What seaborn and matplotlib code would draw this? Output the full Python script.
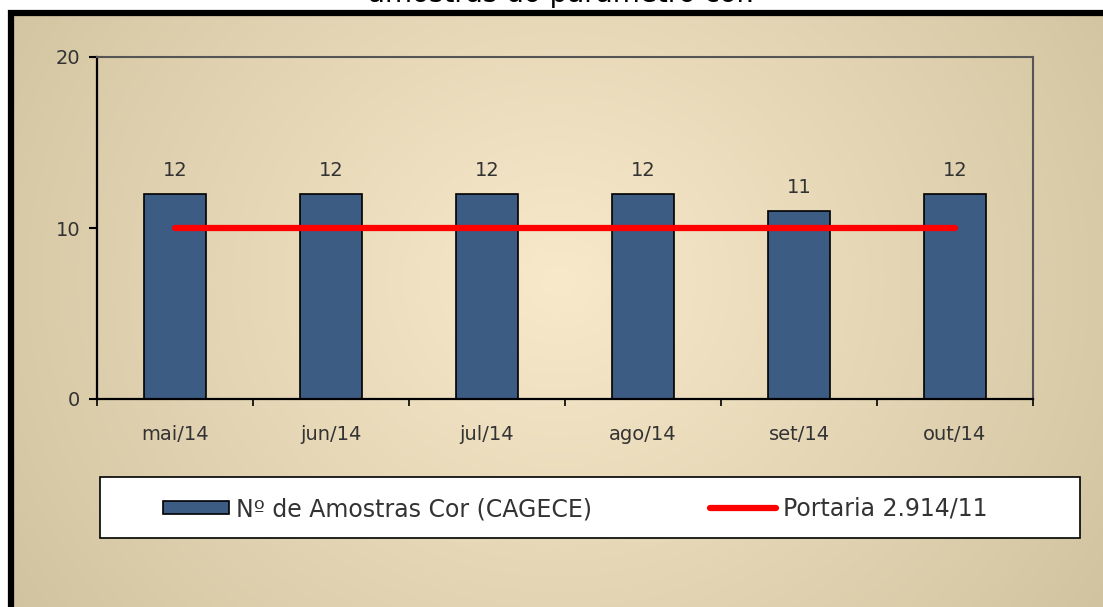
import numpy as np
import seaborn as sns
import matplotlib
matplotlib.use("Agg")
import matplotlib.pyplot as plt
from matplotlib.patches import Rectangle
from matplotlib.lines import Line2D
from matplotlib.patches import Patch

# dados
meses = ["mai/14", "jun/14", "jul/14", "ago/14", "set/14", "out/14"]
amostras = [12, 12, 12, 12, 11, 12]
portaria = [10, 10, 10, 10, 10, 10]

sns.set_theme(style="white")
plt.rcParams['font.family'] = ['DejaVu Sans']

W, H = 1103, 607
fig = plt.figure(figsize=(W / 100, H / 100), dpi=100)
fig.patch.set_facecolor("white")

# fundo em gradiente (bege)
bg = fig.add_axes([14 / W, 0, 1 - 14 / W, 1 - 15 / H], zorder=-2)
yy, xx = np.mgrid[0:1:300j, 0:1:500j]
r = np.sqrt(((xx - 0.5) / 0.6) ** 2 + ((yy - 0.45) / 1.0) ** 2)
r = np.clip(r, 0, 1)
c0 = np.array([248, 233, 203]) / 255
c1 = np.array([210, 195, 160]) / 255
img = c0[None, None, :] * (1 - r[..., None]) + c1[None, None, :] * r[..., None]
bg.imshow(img, aspect="auto", extent=[0, 1, 0, 1])
bg.axis("off")

# moldura preta
fig.patches.append(Rectangle((11 / W, -0.1), 1.2, 1 - 12.5 / H + 0.1,
                             transform=fig.transFigure, fill=False,
                             edgecolor="black", linewidth=4.5, zorder=-1))

# titulo (cortado no topo, como no original)
fig.text(561 / W, 1 - 2 / H, "amostras do parâmetro cor.", ha="center",
         va="baseline", fontsize=20, color="black")

ax = fig.add_axes([97 / W, 1 - 399 / H, 936 / W, 342 / H])
ax.patch.set_alpha(0)

sns.barplot(x=meses, y=amostras, color="#3c5c84", width=0.4,
            edgecolor="black", linewidth=1.2, saturation=1, ax=ax)
sns.lineplot(x=list(range(len(meses))), y=portaria, color="#ff0000",
             linewidth=4.5, solid_capstyle="round", ax=ax)

ax.bar_label(ax.containers[0], padding=10, fontsize=14, color="#333333")

ax.set_xlim(-0.5, len(meses) - 0.5)
ax.set_ylim(0, 20)
ax.set_yticks([0, 10, 20])
ax.set_xlabel("")
ax.set_ylabel("")
ax.set_xticks(np.arange(-0.5, len(meses)), minor=True)
ax.tick_params(axis="x", which="major", length=0, pad=19, labelsize=14,
               labelcolor="#333333")
ax.tick_params(axis="x", which="minor", length=5, width=1.2, color="black",
               direction="out", bottom=True)
ax.tick_params(axis="y", length=6, width=1.5, color="black", direction="out",
               pad=6, labelsize=14, labelcolor="#333333", left=True)

for s in ["left", "bottom"]:
    ax.spines[s].set_color("black")
    ax.spines[s].set_linewidth(1.6)
for s in ["top", "right"]:
    ax.spines[s].set_color("#555555")
    ax.spines[s].set_linewidth(1.5)

# legenda
fig.patches.append(Rectangle((100 / W, 1 - 538 / H), 980 / W, 61 / H,
                             transform=fig.transFigure, facecolor="white",
                             edgecolor="black", linewidth=1.2, zorder=1))
handles = [Patch(facecolor="#3c5c84", edgecolor="black", linewidth=1.2),
           Line2D([0], [0], color="#ff0000", linewidth=4.5,
                  solid_capstyle="round")]
labels = ["Nº de Amostras Cor (CAGECE)", "Portaria 2.914/11"]
leg = fig.legend(handles, labels, loc="center", ncol=2, frameon=False,
                 bbox_to_anchor=(575 / W, 1 - 509 / H), fontsize=17,
                 handlelength=2.8, handleheight=0.5, handletextpad=0.3,
                 columnspacing=5.0, labelcolor="#333333")
leg.set_zorder(2)

fig.savefig("out.png", dpi=100)
